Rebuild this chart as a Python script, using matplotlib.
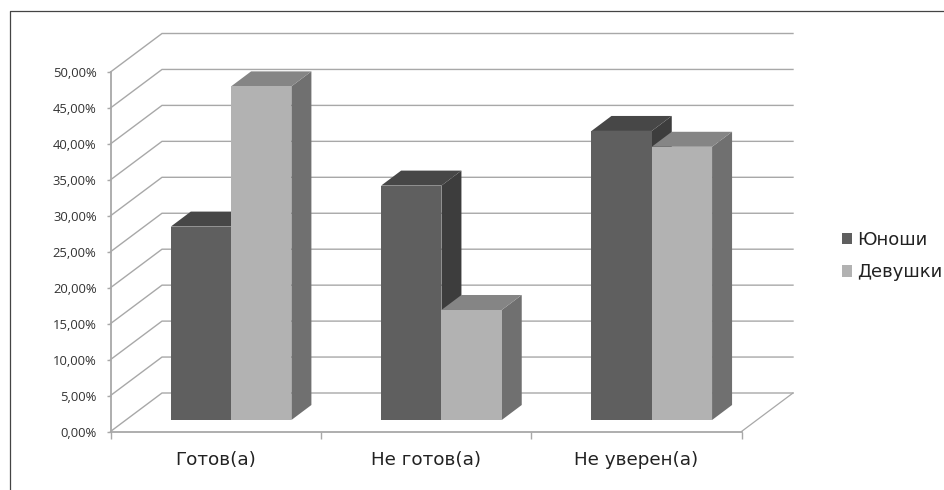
import matplotlib
matplotlib.use("Agg")
import matplotlib.pyplot as plt
from matplotlib.patches import Patch
from matplotlib.lines import Line2D

categories = ["Готов(а)", "Не готов(а)", "Не уверен(а)"]
boys = [26.9, 32.6, 40.2]
girls = [46.4, 15.3, 38.0]
y_ticks = [0, 5, 10, 15, 20, 25, 30, 35, 40, 45, 50]
y_tick_labels = ["0,00%", "5,00%", "10,00%", "15,00%", "20,00%", "25,00%",
                 "30,00%", "35,00%", "40,00%", "45,00%", "50,00%"]
series_names = ["Юноши", "Девушки"]

W, H = 944, 490
FONT = "Open Sans"
WIDE_FONT = "DejaVu Sans"
GREY = "#a8a8a8"
fig = plt.figure(figsize=(W / 100, H / 100), dpi=100, facecolor="white")
L, R, T, B = 110.5, 741.5, 72, 431.5
ax = fig.add_axes([L / W, 1 - B / H, (R - L) / W, (B - T) / H])
ax.set_xlim(0, 3)
ax.set_ylim(0, 50)
ax.patch.set_visible(False)

px_x = 3 / (R - L)
px_y = 50 / (B - T)
wall_dx, wall_dy = 51.5 * px_x, 38.5 * px_y
bar_dx, bar_dy = 20 * px_x, 15 * px_y
base_dy = 11.5 * px_y
bar_w = 60.3 * px_x
bar_start = 60.3 * px_x

# walls and gridlines
for v in y_ticks:
    ax.plot([0, wall_dx, 3 + wall_dx], [v, v + wall_dy, v + wall_dy],
            color=GREY, lw=1.0, clip_on=False, zorder=1, solid_joinstyle="miter")
ax.plot([3, 3 + wall_dx], [0, wall_dy], color=GREY, lw=0.9, clip_on=False, zorder=1)

# bars
styles = [("#5f5f5f", "#474747", "#3d3d3d"), ("#b2b2b2", "#858585", "#707070")]
for s, values in enumerate([boys, girls]):
    front, top, side = styles[s]
    for i, v in enumerate(values):
        x0 = i + bar_start + s * bar_w
        x1 = x0 + bar_w
        y0 = base_dy
        y1 = base_dy + v
        ax.fill([x1, x1 + bar_dx, x1 + bar_dx, x1],
                [y0, y0 + bar_dy, y1 + bar_dy, y1], color=side, lw=0, clip_on=False, zorder=2 + s)
        ax.fill([x0, x1, x1 + bar_dx, x0 + bar_dx],
                [y1, y1, y1 + bar_dy, y1 + bar_dy], color=top, lw=0, clip_on=False, zorder=2 + s)
        ax.fill([x0, x1, x1, x0], [y0, y0, y1, y1], color=front, lw=0, clip_on=False, zorder=2 + s)

# axes
for name in ("top", "right"):
    ax.spines[name].set_visible(False)
for name in ("left", "bottom"):
    ax.spines[name].set_color(GREY)
    ax.spines[name].set_linewidth(1.3)
    ax.spines[name].set_zorder(5)
ax.set_yticks(y_ticks, labels=y_tick_labels)
ax.set_xticks([0, 1, 2, 3], labels=[])
ax.set_xticks([0.5, 1.5, 2.5], labels=categories, minor=True)
ax.tick_params(axis="y", length=3, width=1, color=GREY, pad=7, labelsize=9.4, labelcolor="#333333")
ax.tick_params(axis="x", which="major", length=5, width=1, color=GREY)
ax.tick_params(axis="x", which="minor", length=0, pad=14, labelsize=13.2, labelcolor="#222222")
for t in ax.get_yticklabels():
    t.set_fontfamily(FONT)
for t in ax.get_xticklabels(minor=True):
    t.set_fontfamily(WIDE_FONT)

# legend
handles = [Patch(facecolor=styles[0][0], label=series_names[0]),
           Patch(facecolor=styles[1][0], label=series_names[1])]
leg = fig.legend(handles=handles, loc="center left", bbox_to_anchor=(831 / W, 1 - 256 / H),
                 frameon=False, prop={"family": WIDE_FONT, "size": 13.0}, labelcolor="#222222",
                 handlelength=0.57, handleheight=0.57, handletextpad=0.25, labelspacing=0.82,
                 borderpad=0.3, borderaxespad=0.3)

# outer frame
fig.add_artist(Line2D([9.5 / W, 9.5 / W, 1], [0, 1 - 11.5 / H, 1 - 11.5 / H],
                      transform=fig.transFigure, color="#444444", lw=0.9))

fig.savefig("out.png", dpi=100)
